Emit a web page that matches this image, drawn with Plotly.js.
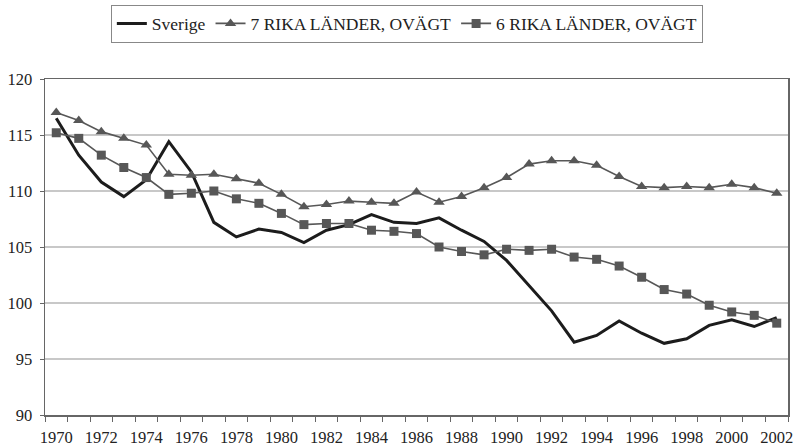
<!DOCTYPE html>
<html>
<head>
<meta charset="utf-8">
<script src="https://cdn.plot.ly/plotly-3.0.1.min.js"></script>
<style>html,body{margin:0;padding:0;background:#fff;}#chart{width:794px;height:447px;}</style>
</head>
<body>
<div id="chart"></div>
<script>
const years = [1970,1971,1972,1973,1974,1975,1976,1977,1978,1979,1980,1981,1982,1983,1984,1985,1986,1987,1988,1989,1990,1991,1992,1993,1994,1995,1996,1997,1998,1999,2000,2001,2002];
const tickYears = [1970,1972,1974,1976,1978,1980,1982,1984,1986,1988,1990,1992,1994,1996,1998,2000,2002];
const yTicks = [90,95,100,105,110,115,120];

const sverige = [116.5,113.2,110.8,109.5,111.0,114.4,111.7,107.2,105.9,106.6,106.3,105.4,106.5,107.0,107.9,107.2,107.1,107.6,106.5,105.5,103.8,101.5,99.3,96.5,97.1,98.4,97.3,96.4,96.8,98.0,98.5,97.9,98.7];
const rika7 = [117.0,116.3,115.3,114.7,114.1,111.5,111.4,111.5,111.1,110.7,109.7,108.6,108.8,109.1,109.0,108.9,109.9,109.0,109.5,110.3,111.2,112.4,112.7,112.7,112.3,111.3,110.4,110.3,110.4,110.3,110.6,110.3,109.8];
const rika6 = [115.2,114.7,113.2,112.1,111.2,109.7,109.8,110.0,109.3,108.9,108.0,107.0,107.1,107.1,106.5,106.4,106.2,105.0,104.6,104.3,104.8,104.7,104.8,104.1,103.9,103.3,102.3,101.2,100.8,99.8,99.2,98.9,98.2];

const names = ["Sverige", "7 RIKA LÄNDER, OVÄGT", "6 RIKA LÄNDER, OVÄGT"];
const font = "Liberation Serif, Times New Roman, serif";
const grey = "#575757";

const traces = [
  {x: years, y: sverige, name: names[0], type: "scatter", mode: "lines",
   line: {color: "#1c1c1c", width: 3}},
  {x: years, y: rika7, name: names[1], type: "scatter", mode: "lines+markers",
   line: {color: grey, width: 1.6}, marker: {symbol: "triangle-up", size: 10, color: grey}},
  {x: years, y: rika6, name: names[2], type: "scatter", mode: "lines+markers",
   line: {color: grey, width: 1.6}, marker: {symbol: "square", size: 9, color: grey}}
];

const layout = {
  width: 794, height: 447,
  margin: {l: 45, r: 6, t: 78, b: 32},
  paper_bgcolor: "#fff", plot_bgcolor: "#fff",
  font: {family: font, size: 16, color: "#222"},
  showlegend: true,
  legend: {orientation: "h", x: 0.487, xanchor: "center", y: 1.218, yanchor: "top",
           bordercolor: "#888", borderwidth: 1, font: {family: font, size: 17.5, color: "#222"},
           itemwidth: 30, tracegroupgap: 0},
  xaxis: {
    type: "linear", range: [1969.5, 2002.5], tickmode: "array", tickvals: tickYears,
    ticktext: tickYears.map(String), ticks: "", showgrid: false, zeroline: false,
    showline: true, linecolor: "#666", linewidth: 1.5, mirror: true,
    ticklabelstandoff: 7,
    minor: {tick0: 1969.5, dtick: 1, ticks: "outside", ticklen: 5, tickcolor: "#666", tickwidth: 1, showgrid: false},
    tickfont: {family: font, size: 16.5, color: "#222"}
  },
  yaxis: {
    range: [90, 120], tickmode: "array", tickvals: yTicks, ticks: "outside", ticklen: 4,
    tickcolor: "#666", showgrid: true, gridcolor: "#c8c8c8", gridwidth: 1.2, zeroline: false,
    showline: true, linecolor: "#666", linewidth: 1.5, mirror: true,
    ticklabelstandoff: 4,
    tickfont: {family: font, size: 16.5, color: "#222"}
  }
};

Plotly.newPlot("chart", traces, layout, {displayModeBar: false, staticPlot: true});
</script>
</body>
</html>
